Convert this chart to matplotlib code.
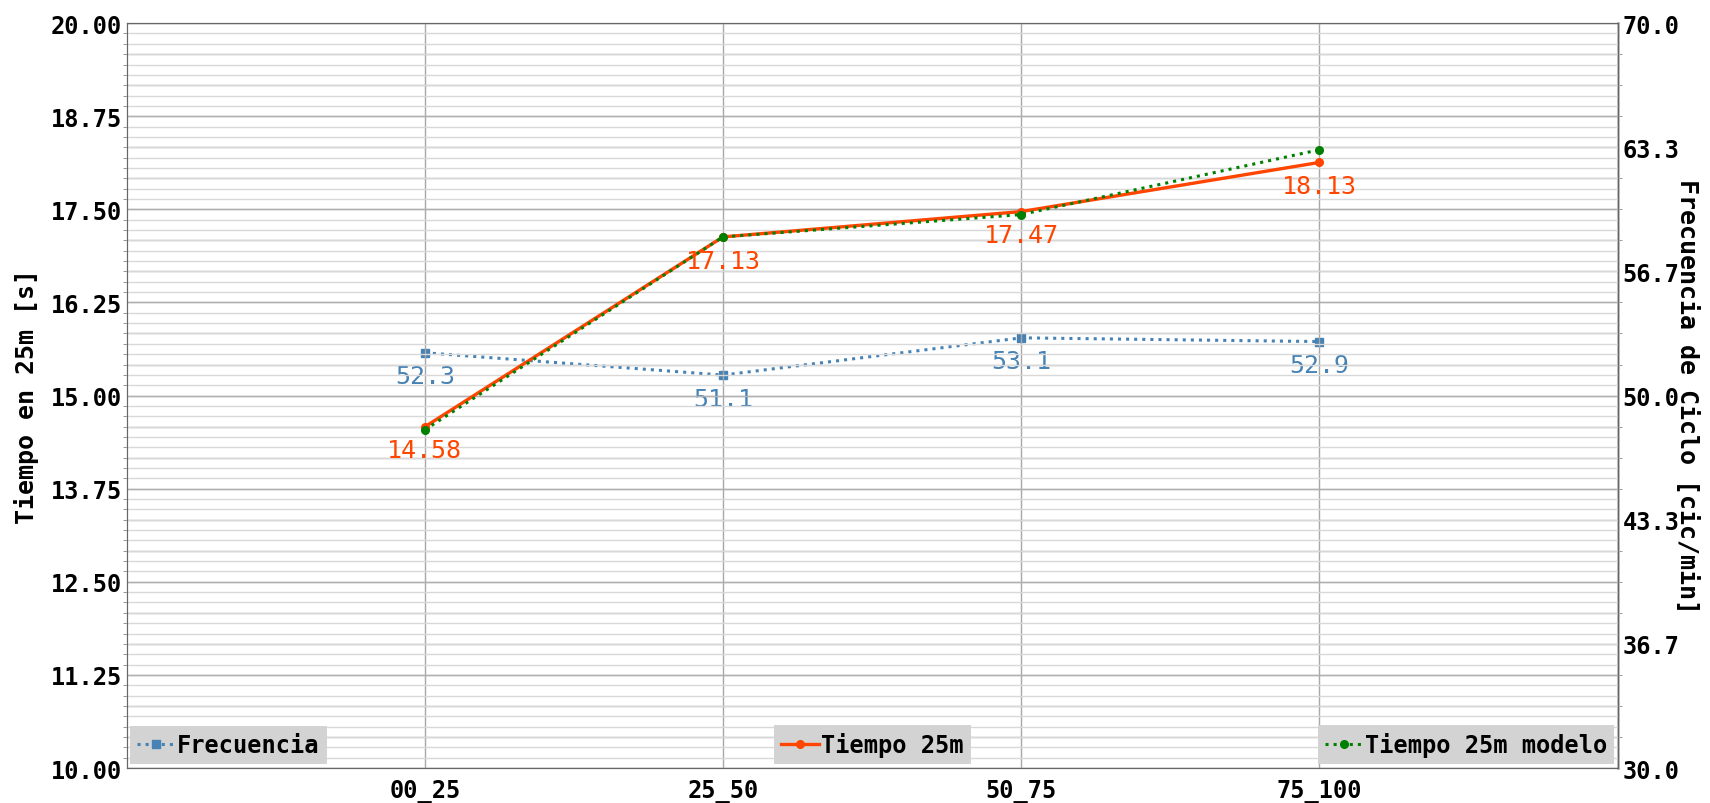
import matplotlib
matplotlib.use("Agg")
import matplotlib.pyplot as plt
from matplotlib.ticker import MultipleLocator, LinearLocator, AutoMinorLocator, FormatStrFormatter

plt.rcParams['font.family'] = ['DejaVu Sans Mono', 'DejaVu Sans']

tramos = ["00_25", "25_50", "50_75", "75_100"]
frecuencia = [52.3, 51.1, 53.1, 52.9]
tiempo_25m = [14.58, 17.13, 17.47, 18.13]
tiempo_modelo = [14.54, 17.13, 17.43, 18.30]

FS = 17
C_FREC = "steelblue"
C_TIEMPO = "orangered"
C_MODELO = "green"

fig = plt.figure(figsize=(17.1, 8.04), dpi=100)
ax = fig.add_axes([0.074, 0.0435, 0.872, 0.9265])
ax2 = ax.twinx()

# the left axis goes on top so the time lines are not covered by the right grid
ax.set_zorder(ax2.get_zorder() + 1)
ax.patch.set_visible(False)

x = list(range(len(tramos)))

# right axis: frequency
l_frec, = ax2.plot(x, frecuencia, color=C_FREC, linestyle=":", linewidth=2.2,
                   marker="s", markersize=6, label="Frecuencia")
for xi, v in zip(x, frecuencia):
    ax2.annotate(f"{v:.1f}", (xi, v), xytext=(0, -17), textcoords="offset points",
                 ha="center", va="center", color=C_FREC, fontsize=18, fontweight="medium")

# left axis: times
l_tiempo, = ax.plot(x, tiempo_25m, color=C_TIEMPO, linewidth=2.4,
                    marker="o", markersize=5.5, label="Tiempo 25m")
l_modelo, = ax.plot(x, tiempo_modelo, color=C_MODELO, linestyle=":", linewidth=2.2,
                    marker="o", markersize=5.5, label="Tiempo 25m modelo")
for xi, v in zip(x, tiempo_25m):
    ax.annotate(f"{v:.2f}", (xi, v), xytext=(0, -17), textcoords="offset points",
                ha="center", va="center", color=C_TIEMPO, fontsize=18, fontweight="medium")

ax.set_xlim(-1, len(tramos))
ax.set_xticks(x)
ax.set_xticklabels(tramos)

ax.set_ylim(10, 20)
ax.yaxis.set_major_locator(MultipleLocator(1.25))
ax.yaxis.set_minor_locator(AutoMinorLocator(9))
ax.yaxis.set_major_formatter(FormatStrFormatter("%.2f"))

ax2.set_ylim(30, 70)
ax2.yaxis.set_major_locator(LinearLocator(7))
ax2.yaxis.set_minor_locator(AutoMinorLocator(4))
ax2.yaxis.set_major_formatter(FormatStrFormatter("%.1f"))

# grids
ax.grid(True, which="major", axis="x", color="#a8a8a8", linewidth=1)
ax.grid(True, which="major", axis="y", color="#b0b0b0", linewidth=1)
ax.grid(True, which="minor", axis="y", color="#d8d8d8", linewidth=1)
ax2.grid(True, which="both", axis="y", color="#b4b4b4", linewidth=1)

for a in (ax, ax2):
    a.tick_params(labelsize=FS, length=0, which="major")
    a.tick_params(which="minor", length=3, color="#888888")
    for lbl in a.get_xticklabels() + a.get_yticklabels():
        lbl.set_fontweight("bold")
    for s in a.spines.values():
        s.set_color("#666666")
ax2.spines["right"].set_color("#bbbbbb")
ax2.spines["right"].set_linewidth(2)
ax.tick_params(axis="x", pad=8)

ax.set_ylabel("Tiempo en 25m [s]", fontsize=18, fontweight="bold", labelpad=8)
ax2.set_ylabel("Frecuencia de Ciclo [cic/min]", fontsize=18, fontweight="bold",
               rotation=270, labelpad=14)

# three separate legends along the bottom
leg_kw = dict(facecolor="#d3d3d3", edgecolor="none", framealpha=1,
              fancybox=False, handlelength=1.6, handletextpad=0.1,
              borderpad=0.3, borderaxespad=0.15, prop={"weight": "bold", "size": FS})
leg1 = ax.legend(handles=[l_frec], loc="lower left", **leg_kw)
ax.add_artist(leg1)
leg2 = ax.legend(handles=[l_tiempo], loc="lower center", **leg_kw)
ax.add_artist(leg2)
ax.legend(handles=[l_modelo], loc="lower right", **leg_kw)

fig.savefig("out.png", dpi=100)
